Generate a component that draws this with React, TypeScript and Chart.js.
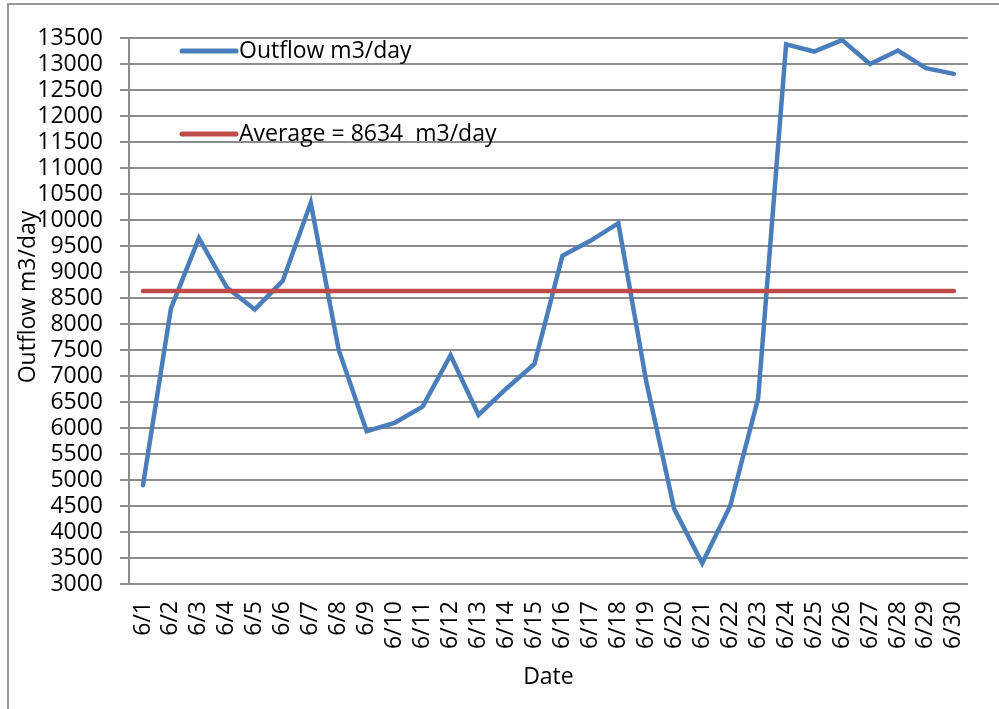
import React, { useEffect, useRef } from "react";
import { Chart, registerables } from "chart.js";

Chart.register(...registerables);

const DATES = [
  "6/1", "6/2", "6/3", "6/4", "6/5", "6/6", "6/7", "6/8", "6/9", "6/10",
  "6/11", "6/12", "6/13", "6/14", "6/15", "6/16", "6/17", "6/18", "6/19", "6/20",
  "6/21", "6/22", "6/23", "6/24", "6/25", "6/26", "6/27", "6/28", "6/29", "6/30",
];
const OUTFLOW = [
  4900, 8300, 9650, 8700, 8280, 8830, 10330, 7500, 5940, 6100,
  6410, 7400, 6250, 6760, 7230, 9310, 9600, 9940, 6890, 4440,
  3400, 4500, 6570, 13380, 13240, 13460, 13000, 13260, 12920, 12810,
];
const AVERAGE = 8634;
const OUTFLOW_LABEL = "Outflow m3/day";
const AVERAGE_LABEL = "Average = 8634  m3/day";
const X_TITLE = "Date";
const Y_TITLE = "Outflow m3/day";
const Y_MIN = 3000;
const Y_MAX = 13500;
const Y_STEP = 500;

const FONT_FAMILY = '"Open Sans", "Noto Sans", sans-serif';
const FONT_SIZE = 23;
const GRID = "#8c8c8c";
const BLUE = "#4A7EBB";
const RED = "#BE4B48";

const insideLegend = {
  id: "insideLegend",
  afterDatasetsDraw(chart: any) {
    const { ctx, chartArea } = chart;
    const x0 = chartArea.left + 53;
    const rows = [chartArea.top + 13, chartArea.top + 96];
    chart.data.datasets.forEach((ds: any, i: number) => {
      const y = rows[i];
      ctx.save();
      ctx.strokeStyle = ds.borderColor;
      ctx.lineWidth = 5;
      ctx.lineCap = "round";
      ctx.beginPath();
      ctx.moveTo(x0, y);
      ctx.lineTo(x0 + 54, y);
      ctx.stroke();
      ctx.fillStyle = "#000";
      ctx.font = `${FONT_SIZE}px ${FONT_FAMILY}`;
      ctx.textAlign = "left";
      ctx.textBaseline = "alphabetic";
      ctx.fillText(ds.label, x0 + 57, y + 7);
      ctx.restore();
    });
  },
};

// y-axis title, drawn slightly above the plot's vertical centre as in the original
const yTitlePlugin = {
  id: "yTitle",
  afterDraw(chart: any) {
    const { ctx, chartArea } = chart;
    const yScale = chart.scales.y;
    const cx = yScale.left + 28;
    const cy = (chartArea.top + chartArea.bottom) / 2 - 14;
    ctx.save();
    ctx.translate(cx, cy);
    ctx.rotate(-Math.PI / 2);
    ctx.fillStyle = "#000";
    ctx.font = `${FONT_SIZE}px ${FONT_FAMILY}`;
    ctx.textAlign = "center";
    ctx.textBaseline = "middle";
    ctx.fillText(Y_TITLE, 0, 0);
    ctx.restore();
  },
};

export default function App() {
  const canvasRef = useRef<HTMLCanvasElement | null>(null);

  useEffect(() => {
    const canvas = canvasRef.current;
    if (!canvas) return;
    const font = { family: FONT_FAMILY, size: FONT_SIZE };
    const chart = new Chart(canvas, {
      type: "line",
      data: {
        labels: DATES,
        datasets: [
          {
            label: OUTFLOW_LABEL,
            data: OUTFLOW,
            borderColor: BLUE,
            backgroundColor: BLUE,
            borderWidth: 4.5,
            pointRadius: 0,
            tension: 0,
            fill: false,
            borderCapStyle: "round",
            order: 1,
          },
          {
            label: AVERAGE_LABEL,
            data: DATES.map(() => AVERAGE),
            borderColor: RED,
            backgroundColor: RED,
            borderWidth: 4.5,
            pointRadius: 0,
            tension: 0,
            fill: false,
            borderCapStyle: "round",
            order: 0,
          },
        ],
      },
      options: {
        responsive: false,
        animation: false,
        devicePixelRatio: 1,
        layout: { padding: { top: 38, right: 31, left: 0, bottom: 0 } },
        plugins: {
          legend: { display: false },
          tooltip: { enabled: false },
        },
        scales: {
          x: {
            type: "category",
            offset: true,
            grid: { display: false, drawTicks: false },
            border: { display: true, color: GRID, width: 2 },
            ticks: {
              autoSkip: false,
              minRotation: 90,
              maxRotation: 90,
              padding: 17,
              color: "#000",
              font,
            },
            title: {
              display: true,
              text: X_TITLE,
              color: "#000",
              font,
              padding: { top: 0, bottom: 18 },
            },
            afterFit: (s: any) => {
              s.height = 125;
            },
          },
          y: {
            min: Y_MIN,
            max: Y_MAX,
            ticks: {
              stepSize: Y_STEP,
              autoSkip: false,
              padding: 17,
              color: "#000",
              font,
              callback: (v: any) => String(v),
            },
            grid: { color: GRID, lineWidth: 2, tickLength: 9, drawTicks: true },
            border: { display: true, color: GRID, width: 2 },
            title: { display: false },
            afterFit: (s: any) => {
              s.width = 129;
            },
          },
        },
      },
      plugins: [insideLegend, yTitlePlugin],
    } as any);
    return () => chart.destroy();
  }, []);

  return (
    <div
      style={{
        position: "fixed",
        left: 0,
        top: 0,
        width: 999,
        height: 709,
        overflow: "hidden",
        background: "#fff",
      }}
    >
      <div
        style={{
          position: "absolute",
          left: 7,
          top: 3,
          width: 1100,
          height: 800,
          border: "2px solid #999",
        }}
      />
      <canvas
        ref={canvasRef}
        width={999}
        height={709}
        style={{ position: "absolute", left: 0, top: 0, width: 999, height: 709 }}
      />
    </div>
  );
}
